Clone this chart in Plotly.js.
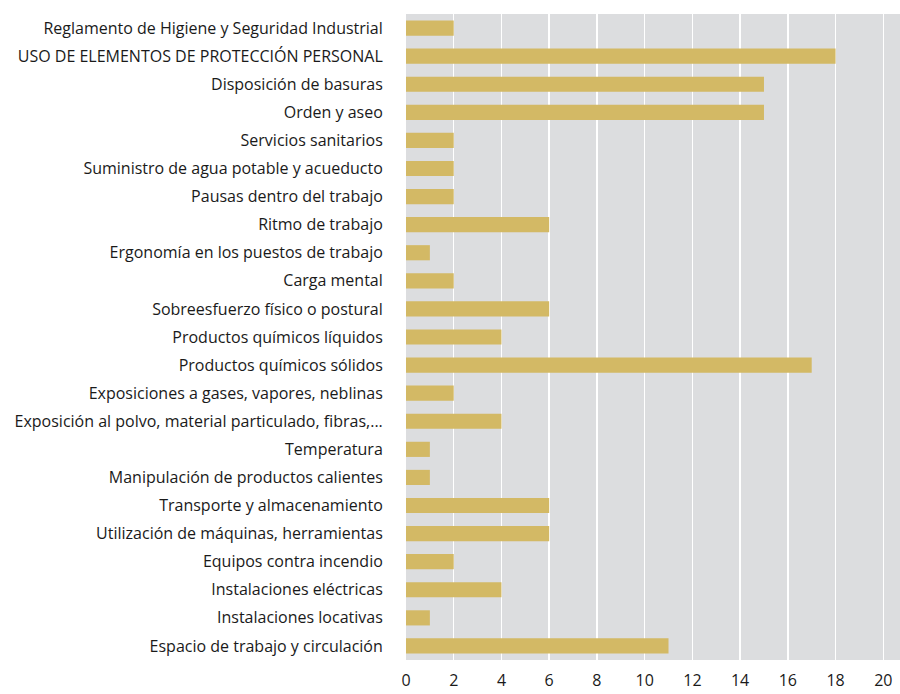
<!DOCTYPE html>
<html><head><meta charset="utf-8">
<script src="https://cdn.plot.ly/plotly-3.0.1.min.js"></script>
<style>html,body{margin:0;padding:0;background:#fff;}#chart{width:900px;height:694px;}</style>
</head><body><div id="chart"></div>
<script>
const categories = [
  "Reglamento de Higiene y Seguridad Industrial",
  "USO DE ELEMENTOS DE PROTECCIÓN PERSONAL",
  "Disposición de basuras",
  "Orden y aseo",
  "Servicios sanitarios",
  "Suministro de agua potable y acueducto",
  "Pausas dentro del trabajo",
  "Ritmo de trabajo",
  "Ergonomía en los puestos de trabajo",
  "Carga mental",
  "Sobreesfuerzo físico o postural",
  "Productos químicos líquidos",
  "Productos químicos sólidos",
  "Exposiciones a gases, vapores, neblinas",
  "Exposición al polvo, material particulado, fibras,...",
  "Temperatura",
  "Manipulación de productos calientes",
  "Transporte y almacenamiento",
  "Utilización de máquinas, herramientas",
  "Equipos contra incendio",
  "Instalaciones eléctricas",
  "Instalaciones locativas",
  "Espacio de trabajo y circulación"
];
const values = [2, 18, 15, 15, 2, 2, 2, 6, 1, 2, 6, 4, 17, 2, 4, 1, 1, 6, 6, 2, 4, 1, 11];
const xTicks = [0, 2, 4, 6, 8, 10, 12, 14, 16, 18, 20];

Plotly.newPlot('chart', [{
  type: 'bar',
  orientation: 'h',
  y: categories,
  x: values,
  width: 0.54,
  marker: {color: '#d3b965', line: {width: 0}},
  hoverinfo: 'x+y'
}], {
  width: 900, height: 694,
  margin: {l: 406, r: 0, t: 14, b: 34},
  paper_bgcolor: '#ffffff',
  plot_bgcolor: '#dcdddf',
  font: {family: '"Open Sans", sans-serif', size: 16, color: '#1a1a1a'},
  showlegend: false,
  bargap: 0.46,
  xaxis: {
    range: [0, 20.7],
    tickvals: xTicks,
    ticktext: xTicks.map(String),
    showgrid: true, gridcolor: '#ffffff', gridwidth: 1.5,
    zeroline: false, showline: false,
    ticks: 'outside', ticklen: 6, tickcolor: 'rgba(0,0,0,0)',
    tickfont: {size: 16}
  },
  yaxis: {
    type: 'category',
    autorange: 'reversed',
    showgrid: false, zeroline: false, showline: false,
    ticks: 'outside', ticklen: 19, tickcolor: 'rgba(0,0,0,0)',
    tickfont: {size: 16}
  }
}, {displayModeBar: false, staticPlot: true});
</script>
</body></html>
